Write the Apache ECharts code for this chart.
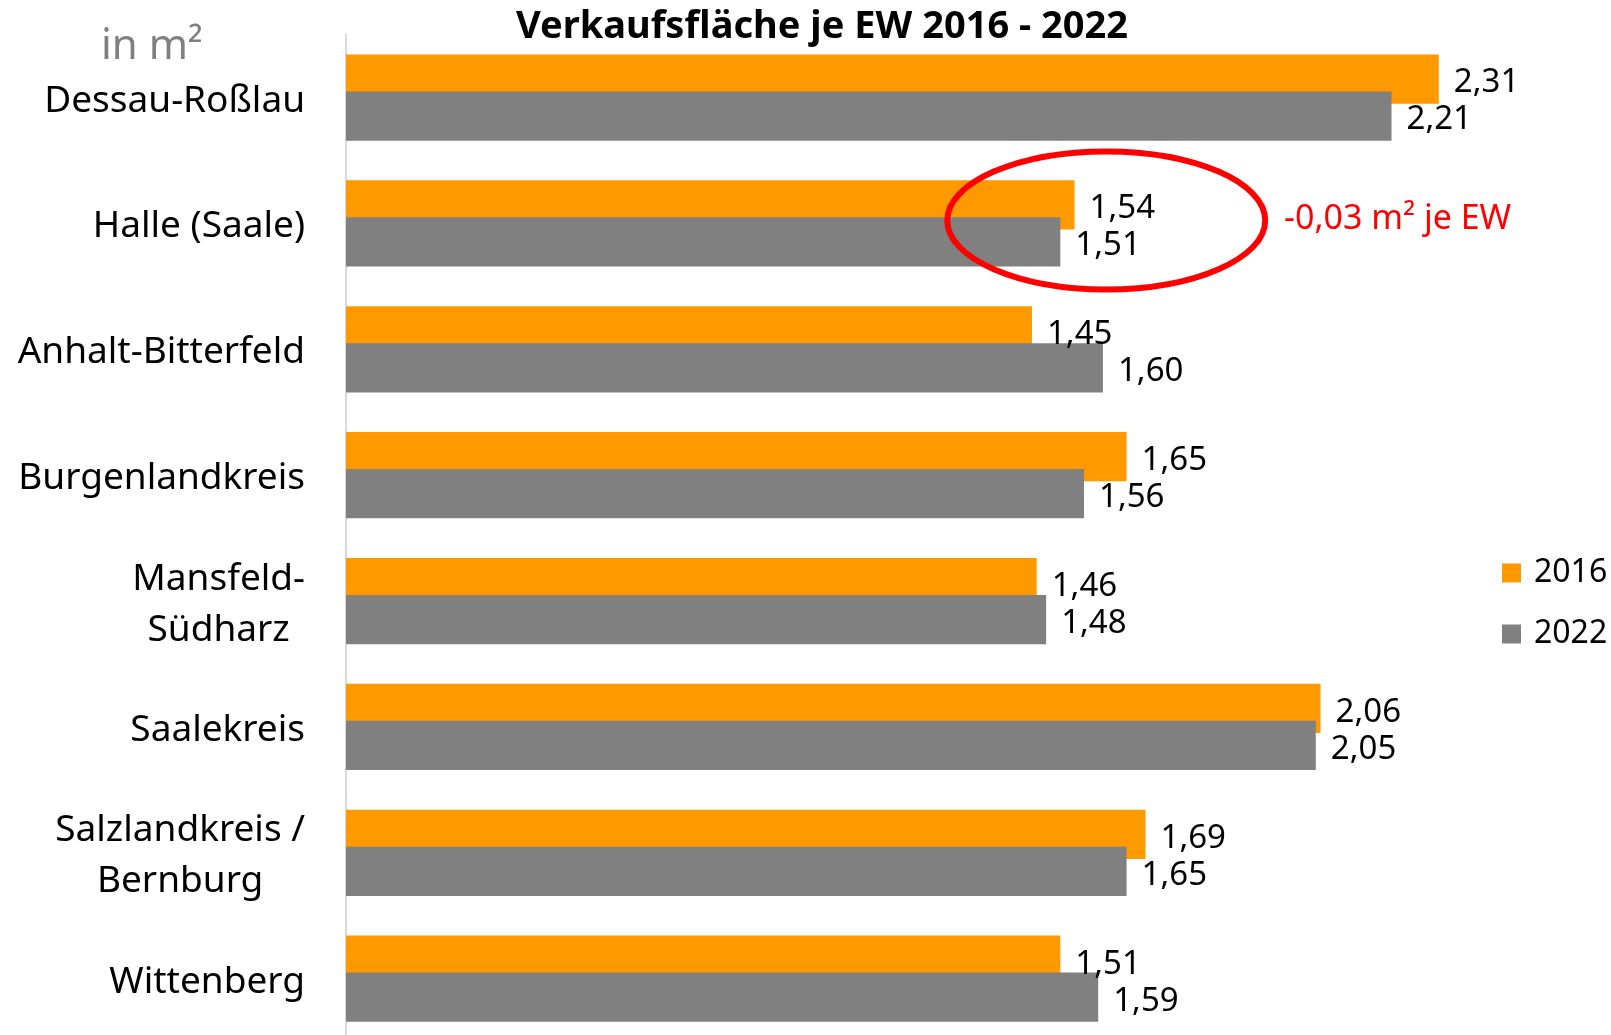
<!DOCTYPE html>
<html lang="de">
<head>
    <meta charset="utf-8">
    <title>Verkaufsfläche je EW 2016 - 2022</title>
    <script src="https://cdn.jsdelivr.net/npm/echarts@6/dist/echarts.min.js"></script>
    <style>
        html, body { margin: 0; padding: 0; background: #fff; }
        #main { width: 1611px; height: 1035px; }
    </style>
</head>
<body>
<div id="main"></div>
<script type="text/javascript">
    // Daten
    var categories = ['Dessau-Roßlau', 'Halle (Saale)', 'Anhalt-Bitterfeld', 'Burgenlandkreis',
        'Mansfeld-\nSüdharz', 'Saalekreis', 'Salzlandkreis /\nBernburg', 'Wittenberg'];
    var values2016 = [2.31, 1.54, 1.45, 1.65, 1.46, 2.06, 1.69, 1.51];
    var values2022 = [2.21, 1.51, 1.60, 1.56, 1.48, 2.05, 1.65, 1.59];
    var seriesNames = ['2016', '2022'];

    var FONT = '"Noto Sans", sans-serif';
    var chart = echarts.init(document.getElementById('main'), null, {renderer: 'canvas'});

    function fmt(p) {
        return p.value.toFixed(2).replace('.', ',');
    }

    var labelStyle = {
        show: true,
        position: 'right',
        distance: 15,
        offset: [0, 4],
        color: '#000',
        fontFamily: FONT,
        fontSize: 33,
        formatter: fmt
    };

    var option = {
        animation: false,
        title: {
            text: 'Verkaufsfläche je EW 2016 - 2022',
            left: 817,
            textAlign: 'center',
            top: 3,
            textStyle: {fontFamily: FONT, fontWeight: 'bold', fontSize: 38, color: '#000'}
        },
        legend: {
            orient: 'vertical',
            left: 1497,
            top: 550,
            itemWidth: 19,
            itemHeight: 19,
            itemGap: 25,
            icon: 'rect',
            data: seriesNames,
            textStyle: {fontFamily: FONT, fontSize: 32, color: '#000', lineHeight: 36, padding: [0, 0, 0, 8]}
        },
        grid: {
            left: 346,
            top: 34.6,
            width: 1230,
            height: 1007,
            containLabel: false,
            outerBoundsMode: 'none'
        },
        xAxis: {
            type: 'value',
            min: 0,
            max: 2.6,
            show: false,
            splitLine: {show: false}
        },
        yAxis: {
            type: 'category',
            inverse: true,
            data: categories,
            axisLine: {show: true, lineStyle: {color: '#d9d9d9', width: 2}},
            axisTick: {show: false},
            axisLabel: {
                interval: 0,
                margin: 41,
                padding: [7, 0, 0, 0],
                formatter: function (v) {
                    return v.split('\n').map(function (l) { return '{c|' + l + '}'; }).join('\n');
                },
                rich: {
                    c: {align: 'center', fontFamily: FONT, fontSize: 37, lineHeight: 51, color: '#000'}
                }
            }
        },
        series: [
            {
                name: seriesNames[0],
                type: 'bar',
                data: values2016,
                barWidth: 49.3,
                barGap: '-25%',
                itemStyle: {color: '#FF9900'},
                label: labelStyle
            },
            {
                name: seriesNames[1],
                type: 'bar',
                data: values2022,
                barWidth: 49.3,
                barGap: '-25%',
                itemStyle: {color: '#808080'},
                label: labelStyle
            }
        ]
    };

    chart.setOption(option);

    // Markierung Halle (Saale)
    var ellC = chart.convertToPixel({gridIndex: 0}, [1.607, 1]);
    var noteP = chart.convertToPixel({gridIndex: 0}, [1.983, 1]);
    chart.setOption({
        graphic: [
            {
                type: 'text',
                left: 101,
                top: 26,
                style: {text: 'in m²', fontFamily: FONT, fontSize: 42, fill: '#808080'}
            },
            {
                type: 'ellipse',
                shape: {cx: ellC[0], cy: ellC[1] - 3, rx: 159, ry: 69},
                style: {fill: null, stroke: '#FF0000', lineWidth: 6},
                z: 100
            },
            {
                type: 'text',
                x: noteP[0],
                y: noteP[1] - 4,
                style: {
                    text: '-0,03 m² je EW', fontFamily: FONT, fontSize: 34, fill: '#FF0000',
                    align: 'left', verticalAlign: 'middle'
                },
                z: 100
            }
        ]
    });
</script>
</body>
</html>
